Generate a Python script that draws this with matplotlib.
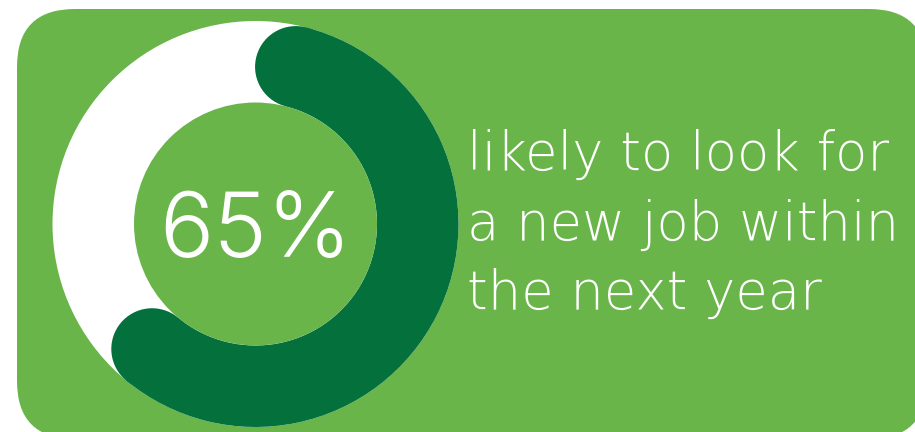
import math
import matplotlib.pyplot as plt
from matplotlib.patches import Circle, Wedge, FancyBboxPatch

# stat shown in the donut and the caption beside it
pct_value = 65
pct_label = f"{pct_value}%"
caption_lines = ["likely to look for", "a new job within", "the next year"]

light_green = "#69b54a"
dark_green = "#04713c"

fig = plt.figure(figsize=(9.15, 4.32), dpi=100)
ax = fig.add_axes([0, 0, 1, 1])
ax.set_xlim(0, 915)
ax.set_ylim(432, 0)
ax.set_aspect("equal")
ax.axis("off")

# rounded card
card = FancyBboxPatch((17, 9), 910, 430, boxstyle="round,pad=0,rounding_size=58",
                      fc=light_green, ec="none")
ax.add_patch(card)

# donut geometry (pixels)
cx, cy = 255.5, 224
r_out, r_in = 203, 121.5
band = r_out - r_in
r_mid = (r_out + r_in) / 2
cap = band / 2

ax.add_patch(Circle((cx, cy), r_out, fc="white", ec="none"))

# arc runs clockwise from 12 o'clock; round caps sit inside the span
span = 360 * pct_value / 100
cap_deg = math.degrees(cap / r_mid)
start = 90 - cap_deg           # math angles (y up)
end = 90 - span + cap_deg
# y axis is inverted, so flip the angles for drawing
ax.add_patch(Wedge((cx, cy), r_out, -start, -end, width=band, fc=dark_green, ec="none"))
for a in (start, end):
    px = cx + r_mid * math.cos(math.radians(a))
    py = cy - r_mid * math.sin(math.radians(a))
    ax.add_patch(Circle((px, py), cap, fc=dark_green, ec="none"))

ax.add_patch(Circle((cx, cy), r_in, fc=light_green, ec="none"))

ax.text(cx, 257, pct_label, color="white", fontsize=65, ha="center", va="baseline",
        family="Inter", fontweight=300)

baselines = [170, 240, 309]
for line, yb in zip(caption_lines, baselines):
    ax.text(467, yb, line, color="white", fontsize=38, ha="left", va="baseline",
            family="DejaVu Sans", fontweight=200)

fig.savefig("out.png", dpi=100)
